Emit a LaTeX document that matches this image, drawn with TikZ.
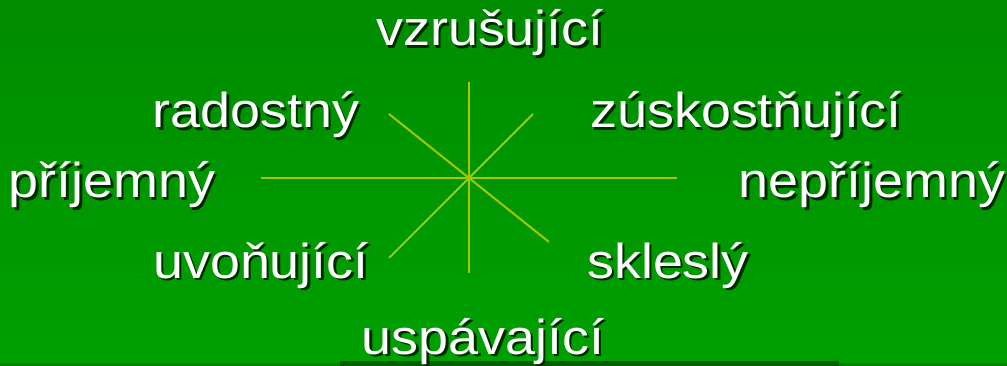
\documentclass[tikz,border=0pt]{standalone}
\usepackage{fontspec}
\setmainfont[FakeStretch=1.1]{Liberation Sans}
\definecolor{bgtop}{RGB}{0,140,0}
\definecolor{bgbottom}{RGB}{0,160,0}
\definecolor{barstrip}{RGB}{0,132,0}
\definecolor{bardark}{RGB}{0,92,0}
\definecolor{raycolor}{RGB}{165,200,0}
\definecolor{wordshade}{RGB}{0,45,0}
\newcommand{\shadowword}[1]{\makebox[0pt][l]{\kern2.5pt\raisebox{-2.5pt}{\textcolor{wordshade}{#1}}}#1}
\begin{document}
\begin{tikzpicture}[x=1pt,y=-1pt]

    \tikzset{
      word/.style={
        text=white,
        anchor=base,
        inner sep=0pt,
        font=\fontsize{49}{58}\selectfont,
      },
      ray/.style={
        color=raycolor,
        line width=2pt,
      },
    }

	\useasboundingbox (0,0) rectangle (1007,366);
	\shade[top color=bgtop,bottom color=bgbottom] (0,0) rectangle (1007,366);
	\fill[color=barstrip] (0,363) rectangle (1007,366);
	\fill[color=bardark] (340,361) rectangle (839,366);

	% rays
	\coordinate (c) at (469,178);
	\coordinate (n) at (469,82);
	\coordinate (s) at (469,273);
	\coordinate (w) at (261,178);
	\coordinate (e) at (677,178);
	\coordinate (nw) at (389,114);
	\coordinate (ne) at (533,114);
	\coordinate (sw) at (389,258);
	\coordinate (se) at (549,242);
	\draw[ray] (c)--(n);
	\draw[ray] (c)--(s);
	\draw[ray] (c)--(w);
	\draw[ray] (c)--(e);
	\draw[ray] (c)--(nw);
	\draw[ray] (c)--(ne);
	\draw[ray] (c)--(sw);
	\draw[ray] (c)--(se);

	% labels
	\node[word] (vzrusujici) at (490,46) {\shadowword{vzrušující}};
	\node[word] (radostny) at (256,128) {\shadowword{radostný}};
	\node[word] (zuskostnujici) at (746,128) {\shadowword{zúskostňující}};
	\node[word] (prijemny) at (112,198) {\shadowword{příjemný}};
	\node[word] (neprijemny) at (872,198) {\shadowword{nepříjemný}};
	\node[word] (uvonujici) at (261,278) {\shadowword{uvoňující}};
	\node[word] (sklesly) at (668,278) {\shadowword{sklesl\'y}};
	\node[word] (uspavajici) at (483,354) {\shadowword{uspávající}};

\end{tikzpicture}
\end{document}
